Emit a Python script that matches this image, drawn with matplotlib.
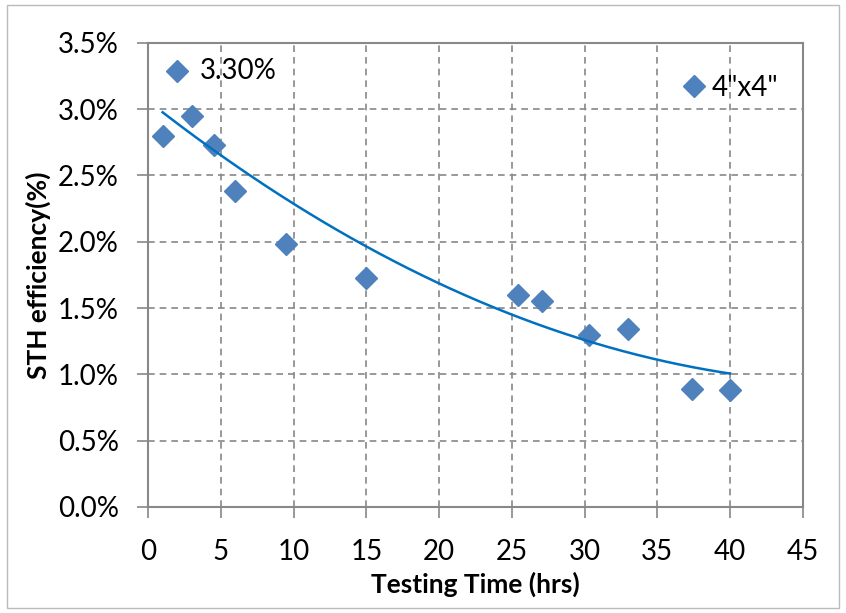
import numpy as np
import matplotlib.pyplot as plt
from matplotlib.patches import Rectangle
from matplotlib.ticker import FuncFormatter

# data
hours = [1.0, 3.0, 4.5, 6.0, 9.5, 15.0, 25.4, 27.1, 30.3, 33.0, 37.4, 40.0]
sth_eff = [2.80, 2.95, 2.73, 2.38, 1.98, 1.73, 1.60, 1.55, 1.30, 1.34, 0.89, 0.88]
x_ticks = [0, 5, 10, 15, 20, 25, 30, 35, 40, 45]
y_ticks = [0.0, 0.5, 1.0, 1.5, 2.0, 2.5, 3.0, 3.5]
# trendline as drawn in the chart (2nd order polynomial): c2*x^2 + c1*x + c0
trend_coef = [0.00087, -0.0862, 3.062]

plt.rcParams['font.family'] = ['Lato', 'DejaVu Sans']

fig = plt.figure(figsize=(8.46, 6.13), dpi=100)
ax = fig.add_axes([0.175, 0.173, 0.774, 0.757])

blue = '#4F81BD'
ax.plot(hours, sth_eff, 'D', color=blue, markersize=11, linestyle='none', label='4"x4"')

xs = np.linspace(min(hours), max(hours), 200)
ax.plot(xs, np.polyval(trend_coef, xs), color='#0070C0', lw=1.8)

ax.set_xlim(0, 45)
ax.set_ylim(0, 3.5)
ax.set_xticks(x_ticks)
ax.set_yticks(y_ticks)
ax.yaxis.set_major_formatter(FuncFormatter(lambda v, p: '%.1f%%' % v))
ax.tick_params(labelsize=20, length=8, color='#888888', width=1.2, direction='out')
ax.tick_params(axis='y', pad=13)
ax.tick_params(axis='x', pad=15)
ax.grid(True, linestyle=(0, (4, 3)), color='#888888', lw=1.2)
for s in ax.spines.values():
    s.set_color('#888888')
    s.set_linewidth(1.5)

ax.set_xlabel('Testing Time (hrs)', fontsize=19, fontweight='bold', labelpad=5)
ax.set_ylabel('STH efficiency(%)', fontsize=19, fontweight='bold', labelpad=5)

# "3.30%" note with marker, top-left
ax.plot([2.0], [3.29], 'D', color=blue, markersize=11)
ax.text(3.55, 3.29, '3.30%', fontsize=20, va='center', ha='left')

ax.legend(loc='upper right', bbox_to_anchor=(0.98, 0.955), frameon=False, fontsize=20,
          handletextpad=0.15, handlelength=1.0, borderaxespad=0)

fig.patches.append(Rectangle((0.008, 0.008), 0.984, 0.984, transform=fig.transFigure,
                             fill=False, edgecolor='#bbbbbb', lw=1))

fig.savefig('out.png', dpi=100)
